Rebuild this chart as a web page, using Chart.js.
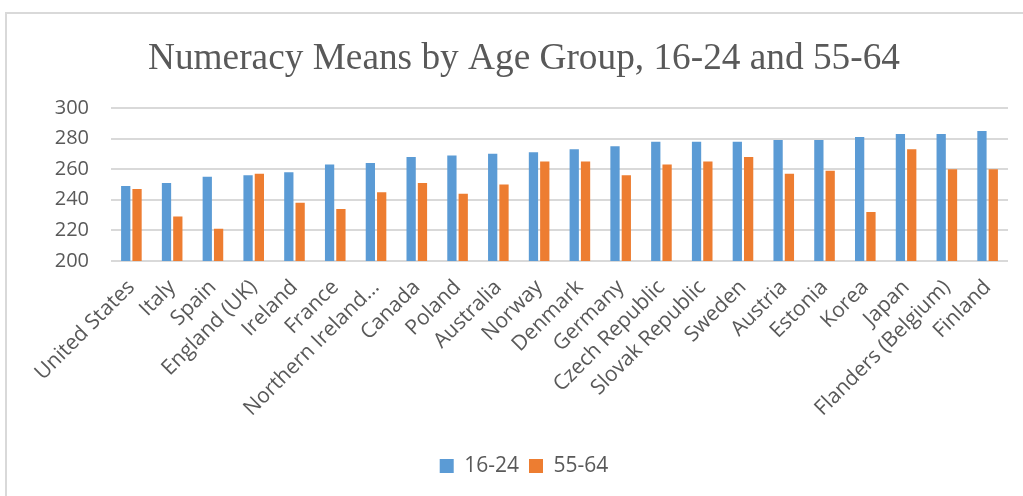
<!DOCTYPE html>
<html>
<head>
<meta charset="utf-8">
<script src="https://cdn.jsdelivr.net/npm/chart.js@4.4.1/dist/chart.umd.min.js"></script>
<style>
  html, body { margin: 0; padding: 0; background: #fff; }
  #wrap { position: relative; width: 1023px; height: 496px; overflow: hidden; }
  #frame {
    position: absolute; left: 5px; top: 12px; width: 1100px; height: 600px;
    border: 2px solid #d9d9d9; box-sizing: border-box;
  }
  canvas { position: absolute; left: 0; top: 0; }
</style>
</head>
<body>
<div id="wrap">
  <div id="frame"></div>
  <canvas id="chart" width="1023" height="496"></canvas>
</div>
<script>
/* Data */
const countries = [
    "United States", "Italy", "Spain", "England (UK)", "Ireland", "France",
    "Northern Ireland...", "Canada", "Poland", "Australia", "Norway", "Denmark",
    "Germany", "Czech Republic", "Slovak Republic", "Sweden", "Austria",
    "Estonia", "Korea", "Japan", "Flanders (Belgium)", "Finland"
];
const young = [249, 251, 255, 256, 258, 263, 264, 268, 269, 270, 271, 273,
               275, 278, 278, 278, 279, 279, 281, 283, 283, 285];
const older = [247, 229, 221, 257, 238, 234, 245, 251, 244, 250, 265, 265,
               256, 263, 265, 268, 257, 259, 232, 273, 260, 260];
const seriesNames = ["16-24", "55-64"];
const yTicks = { min: 200, max: 300, step: 20 };

const TEXT = "#595959";
const GRID = "#d9d9d9";
const SANS = "'Open Sans', sans-serif";

new Chart(document.getElementById("chart"), {
    type: "bar",
    data: {
        labels: countries,
        datasets: [
            { label: seriesNames[0], data: young, backgroundColor: "#5b9bd5" },
            { label: seriesNames[1], data: older, backgroundColor: "#ed7d31" }
        ]
    },
    options: {
        responsive: false,
        animation: false,
        /* left padding pushes title and legend to the frame's centre */
        layout: { padding: { left: 40, right: 15, top: 0, bottom: 9.5 } },
        datasets: {
            bar: { categoryPercentage: 0.555, barPercentage: 0.82 }
        },
        plugins: {
            title: {
                display: true,
                text: "Numeracy Means by Age Group, 16-24 and 55-64",
                color: TEXT,
                font: { family: "'Liberation Serif', 'Times New Roman', serif", size: 37.3, weight: "normal" },
                padding: { top: 37, bottom: 26.2 }
            },
            legend: {
                position: "bottom",
                labels: {
                    color: TEXT,
                    font: { family: SANS, size: 21 },
                    boxWidth: 14,
                    boxHeight: 14,
                    padding: 10
                }
            },
            tooltip: { enabled: false }
        },
        scales: {
            x: {
                grid: { display: false, drawTicks: false },
                border: { display: false },
                ticks: {
                    color: TEXT,
                    font: { family: SANS, size: 21 },
                    minRotation: 45,
                    maxRotation: 45,
                    autoSkip: false,
                    padding: 14
                },
                afterFit: (scale) => { scale.height = 184.5; }
            },
            y: {
                min: yTicks.min,
                max: yTicks.max,
                ticks: {
                    stepSize: yTicks.step,
                    color: TEXT,
                    font: { family: SANS, size: 20 },
                    padding: 22
                },
                grid: { color: GRID, lineWidth: 2, drawTicks: false },
                border: { display: false },
                afterFit: (scale) => { scale.width = 71; }
            }
        }
    }
});
</script>
</body>
</html>
